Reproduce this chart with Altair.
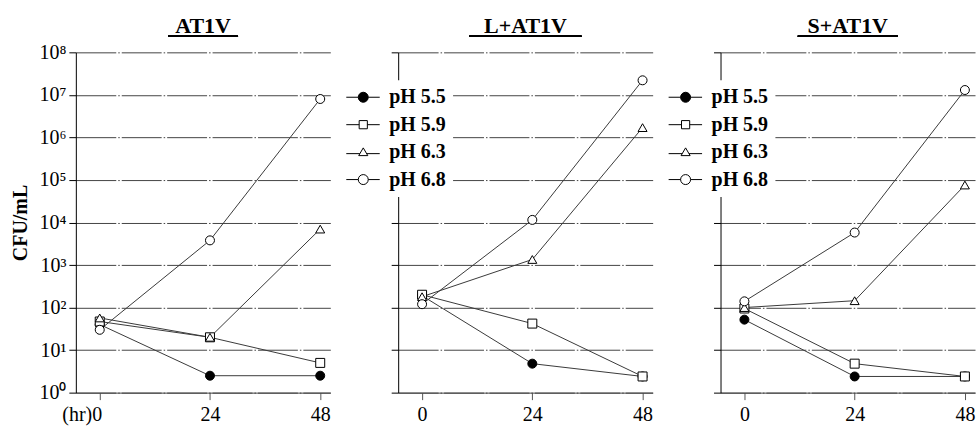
import altair as alt
import pandas as pd

# ---- data -------------------------------------------------------------
hours = [0, 24, 48]
ph_levels = ["pH 5.5", "pH 5.9", "pH 6.3", "pH 6.8"]
panel_names = ["AT1V", "L+AT1V", "S+AT1V"]
y_ticks = [1, 10, 100, 1e3, 1e4, 1e5, 1e6, 1e7, 1e8]

# CFU/mL at 0, 24 and 48 h
at1v_ph55 = [40, 2.5, 2.5]
at1v_ph59 = [47, 20, 5]
at1v_ph63 = [57, 20, 7000]
at1v_ph68 = [30, 3800, 8.0e6]

l_at1v_ph55 = [190, 4.8, 2.4]
l_at1v_ph59 = [200, 42, 2.4]
l_at1v_ph63 = [180, 1350, 1.7e6]
l_at1v_ph68 = [120, 11500, 2.2e7]

s_at1v_ph55 = [52, 2.4, 2.4]
s_at1v_ph59 = [95, 4.8, 2.4]
s_at1v_ph63 = [100, 145, 7.6e4]
s_at1v_ph68 = [140, 5800, 1.3e7]

series = {
    "AT1V": [at1v_ph55, at1v_ph59, at1v_ph63, at1v_ph68],
    "L+AT1V": [l_at1v_ph55, l_at1v_ph59, l_at1v_ph63, l_at1v_ph68],
    "S+AT1V": [s_at1v_ph55, s_at1v_ph59, s_at1v_ph63, s_at1v_ph68],
}

rows = []
for panel, values in series.items():
    for ph, counts in zip(ph_levels, values):
        for h, c in zip(hours, counts):
            rows.append({"panel": panel, "ph": ph, "hour": h, "cfu": c})
df = pd.DataFrame(rows)

# ---- styling ------------------------------------------------------------
FONT = "Liberation Serif"
W, H = 255, 341
X_DOMAIN = [-5.2, 50.2]

marker_shapes = ["circle", "square", "triangle-up", "circle"]
marker_fills = ["black", "white", "white", "white"]
marker_strokes = ["black", "black", "black", "black"]
marker_sizes = [81, 81, 100, 81]

# legend glyphs: marker with a short line on each side
legend_paths = [
    "M-3.4,0H-1M1,0A1,1,0,1,1,-1,0A1,1,0,1,1,1,0ZM1,0H3.3",
    "M-3.4,0H-0.82M-0.82,-0.82H0.82V0.82H-0.82ZM0.82,0H3.3",
    "M-3.4,0.3H-0.68M0,-0.85L0.91,0.7H-0.91ZM0.68,0.3H3.3",
    "M-3.4,0H-1M1,0A1,1,0,1,1,-1,0A1,1,0,1,1,1,0ZM1,0H3.3",
]

SUP = "['\u2070','\u00b9','\u00b2','\u00b3','\u2074','\u2075','\u2076','\u2077','\u2078']"
Y_LABEL_EXPR = "'10' + " + SUP + "[round(log(datum.value) / LN10)]"

underline_half = {"AT1V": 35, "L+AT1V": 56, "S+AT1V": 50}


def panel(name, first):
    sub = df[df["panel"] == name]
    base = alt.Chart(sub)

    x_axis = alt.Axis(
        values=hours, title=None, grid=False, tickSize=7, tickColor="#555",
        domainColor="#444", labelFont=FONT, labelFontSize=20, labelColor="black",
        labelPadding=5,
        labelExpr="datum.value == 0 ? '(hr)0' : datum.label" if first else "datum.label",
        labelAlign={"condition": {"test": "datum.value == 0", "value": "right"}, "value": "center"} if first else "center",
        labelOffset={"condition": {"test": "datum.value == 0", "value": 2}, "value": 0} if first else 0,
    )
    y_axis_kw = dict(
        values=y_ticks, tickSize=7, tickColor="black", domainColor="black",
        grid=True, gridColor="#444", gridDash=[40, 2, 1.5, 2], gridWidth=1,
        labelFont=FONT, labelFontSize=20, labelColor="black", labelPadding=3,
    )
    if first:
        y_axis = alt.Axis(
            title="CFU/mL", titleFont=FONT, titleFontSize=20, titleFontWeight="bold",
            titleColor="black", titlePadding=8, labelExpr=Y_LABEL_EXPR, **y_axis_kw
        )
    else:
        y_axis = alt.Axis(title=None, labels=False, **y_axis_kw)

    x = alt.X("hour:Q", scale=alt.Scale(domain=X_DOMAIN, nice=False, zero=False), axis=x_axis)
    y = alt.Y("cfu:Q", scale=alt.Scale(type="log", domain=[1, 1e8], nice=False), axis=y_axis)

    lines = base.mark_line(color="#3a3a3a", strokeWidth=1).encode(x=x, y=y, detail="ph:N")
    points = base.mark_point(filled=True, stroke="black", strokeWidth=1, opacity=1).encode(
        x=x, y=y,
        shape=alt.Shape("ph:N", scale=alt.Scale(domain=ph_levels, range=marker_shapes), legend=None),
        fill=alt.Fill("ph:N", scale=alt.Scale(domain=ph_levels, range=marker_fills), legend=None),
        size=alt.Size("ph:N", scale=alt.Scale(domain=ph_levels, range=marker_sizes), legend=None),
    )
    half = underline_half[name]
    underline = base.mark_rule(color="black", strokeWidth=1.5).encode(
        x=alt.value(W / 2 - half), x2=alt.value(W / 2 + half), y=alt.value(-16)
    )
    layers = [lines, points, underline]

    if not first:
        leg = alt.Legend(
            title=None, orient="none", legendX=-52, legendY=28,
            fillColor="white", padding=7, rowPadding=7.5,
            labelFont=FONT, labelFontSize=20, labelFontWeight="bold", labelColor="black",
            labelOffset=16, symbolStrokeColor="black", symbolStrokeWidth=1,
        )
        key = base.transform_filter("false").mark_point(
            filled=True, stroke="black", strokeWidth=1, size=110, opacity=1
        ).encode(
            x=x, y=y,
            shape=alt.Shape("ph:N", scale=alt.Scale(domain=ph_levels, range=legend_paths), legend=leg),
            fill=alt.Fill("ph:N", scale=alt.Scale(domain=ph_levels, range=marker_fills), legend=leg),
            stroke=alt.Stroke("ph:N", scale=alt.Scale(domain=ph_levels, range=marker_strokes), legend=leg),
        )
        layers.append(key)

    return alt.layer(*layers).resolve_scale(
        shape="independent", fill="independent", size="independent", stroke="independent"
    ).properties(
        width=W, height=H,
        title=alt.TitleParams(name, font=FONT, fontSize=22, fontWeight="bold", color="black", offset=-2),
    )


chart = alt.hconcat(
    panel("AT1V", True), panel("L+AT1V", False), panel("S+AT1V", False),
    spacing=68, bounds="flush",
).resolve_scale(
    shape="independent", fill="independent", size="independent", stroke="independent"
).resolve_legend(
    shape="independent", fill="independent", size="independent", stroke="independent"
).configure_view(stroke=None).properties(
    background="white", padding={"left": 11, "top": 14, "right": 2, "bottom": 5}
)

chart.save("out.html", embed_options={"renderer": "svg", "actions": False})
